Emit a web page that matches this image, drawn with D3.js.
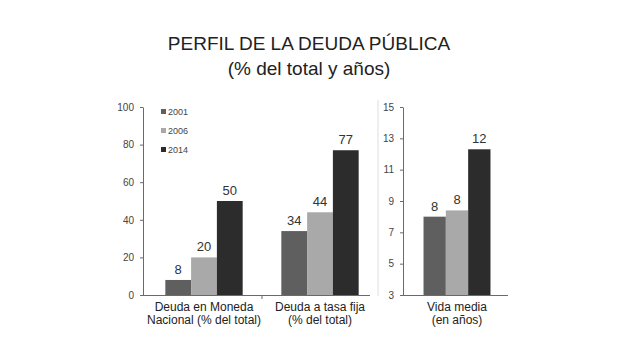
<!DOCTYPE html>
<html>
<head>
<meta charset="utf-8">
<script src="https://cdn.jsdelivr.net/npm/d3@7/dist/d3.min.js"></script>
<style>
  body { margin: 0; background: #fff; }
  svg text { font-family: "Liberation Sans", Arial, sans-serif; }
  .axis path, .axis line { stroke: #6a6a6a; }
  .axis text { fill: #444; font-size: 10px; }
</style>
</head>
<body>
<svg width="640" height="357"></svg>
<script>
// data
const years = ["2001", "2006", "2014"];
const pctCategories = ["Deuda en Moneda|Nacional (% del total)", "Deuda a tasa fija|(% del total)"];
const pctValues = [
  [8, 20, 50],
  [34, 44, 77]
];
const lifeCategories = ["Vida media|(en años)"];
const lifeValues = [[8.0, 8.4, 12.3]];
const lifeLabels = [["8", "8", "12"]];
const pctTicks = [0, 20, 40, 60, 80, 100];
const lifeTicks = [3, 5, 7, 9, 11, 13, 15];

const colors = { "2001": "#5f5f5f", "2006": "#a9a9a9", "2014": "#2c2c2c" };

var svg = d3.select("svg");

svg.append("text").attr("x", 309).attr("y", 50)
  .attr("text-anchor", "middle").attr("font-size", "19px").attr("fill", "#222")
  .text("PERFIL DE LA DEUDA PÚBLICA");
svg.append("text").attr("x", 309).attr("y", 75)
  .attr("text-anchor", "middle").attr("font-size", "19px").attr("fill", "#222")
  .text("(% del total y años)");

// faint panel separator
svg.append("line").attr("x1", 378).attr("x2", 378).attr("y1", 100).attr("y2", 296)
  .attr("stroke", "#dedede");

function panel(cats, values, labels, yDomain, ticks, xRange, axisRange, outerPad, showLegend, midTick) {
  var y = d3.scaleLinear().domain(yDomain).range([295, 107]);
  var x0 = d3.scaleBand().domain(cats).range(xRange).padding(0);
  var x1 = d3.scaleBand().domain(years).range([0, x0.bandwidth()])
    .paddingInner(0).paddingOuter(outerPad);

  var g = svg.append("g");

  cats.forEach((c, i) => {
    var grp = g.append("g").attr("transform", `translate(${x0(c)},0)`);
    years.forEach((yr, j) => {
      grp.append("rect")
        .attr("x", x1(yr))
        .attr("y", y(values[i][j]))
        .attr("width", x1.bandwidth())
        .attr("height", y(yDomain[0]) - y(values[i][j]))
        .attr("fill", colors[yr]);
      grp.append("text")
        .attr("x", x1(yr) + x1.bandwidth() / 2)
        .attr("y", y(values[i][j]) - 6)
        .attr("text-anchor", "middle")
        .attr("font-size", "13px")
        .attr("fill", "#333")
        .text(labels ? labels[i][j] : values[i][j]);
    });
    var lines = c.split("|");
    lines.forEach((l, k) => {
      g.append("text")
        .attr("x", x0(c) + x0.bandwidth() / 2)
        .attr("y", 311 + k * 13)
        .attr("text-anchor", "middle")
        .attr("font-size", "12px")
        .attr("fill", "#222")
        .text(l);
    });
  });

  var yAxis = g.append("g").attr("class", "axis")
    .attr("transform", `translate(${axisRange[0]},0)`)
    .call(d3.axisLeft(y).tickValues(ticks).tickSize(3).tickSizeOuter(0));
  yAxis.selectAll("text").attr("dx", "-3");

  g.append("line").attr("x1", axisRange[0]).attr("x2", axisRange[1])
    .attr("y1", 295.5).attr("y2", 295.5).attr("stroke", "#6a6a6a");
  if (midTick) {
    g.append("line").attr("x1", midTick).attr("x2", midTick)
      .attr("y1", 295).attr("y2", 299).attr("stroke", "#6a6a6a");
  }

  if (showLegend) {
    var lg = g.append("g").attr("transform", "translate(161,112)");
    years.forEach((yr, j) => {
      var row = lg.append("g").attr("transform", `translate(0,${j * 19})`);
      row.append("rect").attr("x", 0).attr("y", -3).attr("width", 5).attr("height", 5)
        .attr("fill", colors[yr]);
      row.append("text").attr("x", 7).attr("y", 3)
        .attr("font-size", "9px").attr("fill", "#444").text(yr);
    });
  }
}

panel(pctCategories, pctValues, null, [0, 100], pctTicks, [146, 378], [143, 370], 0.75, true, 262);
panel(lifeCategories, lifeValues, lifeLabels, [3, 15], lifeTicks, [405, 509], [403, 508], 0.83, false, null);
</script>
</body>
</html>
